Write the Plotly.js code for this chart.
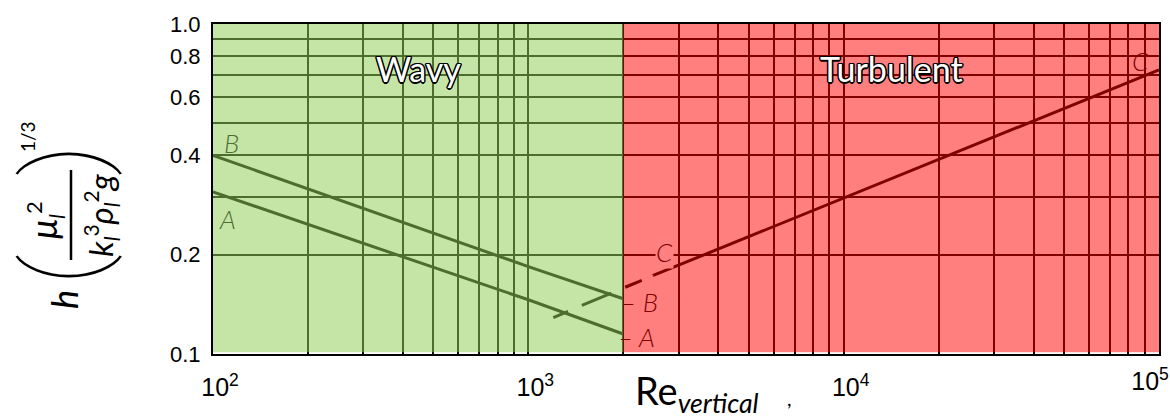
<!DOCTYPE html>
<html><head><meta charset="utf-8">
<script src="https://cdn.plot.ly/plotly-3.0.1.min.js"></script>
<style>html,body{margin:0;padding:0;background:#fff;overflow:hidden}</style>
</head><body><div id="chart" style="width:1170px;height:419px"></div>
<script>
// ---- data ----
const reA = [100, 1000, 2000];
const hA  = [0.31, 0.146, 0.115];
const reB = [100, 1000, 2000];
const hB  = [0.40, 0.184, 0.147];
const reCdash = [1200, 2490];
const hCdash  = [0.129, 0.173];
const reC = [2490, 10000, 20000, 60000, 100000];
const hC  = [0.173, 0.297, 0.39, 0.595, 0.726];
const regimeNames  = ['Wavy', 'Turbulent'];
const regimeBounds = [100, 2000, 100000];
const xTickVals  = [100, 1000, 10000];
const xTickText  = ['10<sup>2</sup>', '10<sup>3</sup>', '10<sup>4</sup>'];
const xTickVals2 = [100000];
const xTickText2 = ['10<sup>5</sup>'];
const yTickVals  = [0.1, 0.2, 0.4, 0.6, 0.8, 1.0];
const yTickText  = ['0.1', '0.2', '0.4', '0.6', '0.8', '1.0'];

// ---- layout helpers (pixel -> paper) ----
const L = 213, T = 24, W = 946, H = 330;
const px = x => (x - L) / W;
const py = y => (T + H - y) / H;

const GREEN_TXT = '#4e6e2f', RED_TXT = '#800000';
const lineStyle = {color: '#000', width: 3};

const traces = [
  {x: reA, y: hA, mode: 'lines', line: lineStyle, name: 'A', hoverinfo: 'skip'},
  {x: reB, y: hB, mode: 'lines', line: lineStyle, name: 'B', hoverinfo: 'skip'},
  {x: reCdash, y: hCdash, mode: 'lines', xaxis: 'x2',
   line: {color: '#000', width: 3, dash: '16px,15px,32px,15px,18px,12px'}, name: 'C ext', hoverinfo: 'skip'},
  {x: reC, y: hC, mode: 'lines', xaxis: 'x2', line: lineStyle, name: 'C', hoverinfo: 'skip'}
];

const axisFont = {family: 'Liberation Sans, Arial, sans-serif', size: 22, color: '#000'};
const xFont = {family: 'Liberation Sans, Arial, sans-serif', size: 25, color: '#000'};
const commonGrid = {gridcolor: '#000', gridwidth: 2};
const outline = '1.5px 0 0 #000,-1.5px 0 0 #000,0 1.5px 0 #000,0 -1.5px 0 #000,1px 1px 0 #000,-1px -1px 0 #000,1px -1px 0 #000,-1px 1px 0 #000';
const mathFont = (size, extra) => Object.assign({family: 'Lato, Open Sans, sans-serif', size: size, color: '#000'}, extra || {});
const parenFont = {family: 'Roboto, Lato, sans-serif', size: 104, weight: 100, color: '#000'};
const scr = (t, s) => '<span style="font-size:' + s + 'px">' + t + '</span>';

const annotations = [
  // regime labels
  {x: Math.log10(447), y: Math.log10(0.735), xref: 'x', yref: 'y', text: regimeNames[0],
   font: {family: 'Lato, sans-serif', size: 34, color: '#fff', shadow: outline}},
  {x: Math.log10(14130), y: Math.log10(0.735), xref: 'x', yref: 'y', text: regimeNames[1],
   font: {family: 'Lato, sans-serif', size: 34, color: '#fff', shadow: outline}},
  // curve labels
  {x: px(231), y: py(143), text: '<i>B</i>', font: mathFont(26, {color: GREEN_TXT, weight: 300})},
  {x: px(227), y: py(219), text: '<i>A</i>', font: mathFont(26, {color: GREEN_TXT, weight: 300})},
  {x: px(639), y: py(302), text: '<i>– B</i>', font: mathFont(26, {color: RED_TXT, weight: 300})},
  {x: px(636), y: py(337), text: '<i>– A</i>', font: mathFont(26, {color: RED_TXT, weight: 300})},
  {x: px(664), y: py(252), text: '<i>C</i>', bgcolor: 'rgb(255,128,128)', borderpad: 0, font: mathFont(26, {color: RED_TXT, weight: 300})},
  {x: px(1140), y: py(61), text: '<i>C</i>', font: mathFont(26, {color: RED_TXT, weight: 300})},
  // x-axis title
  {x: px(633), y: py(365), xanchor: 'left', yanchor: 'top', text: 'Re<sub><i>vertical</i></sub>', font: mathFont(38)},
  {x: px(789), y: py(398), text: ',', font: mathFont(20)},
  // y-axis title pieces (rotated)
  {x: px(64), y: py(300), text: '<i>h</i>', textangle: -90, font: mathFont(36)},
  {x: px(62), y: py(270), text: '(', textangle: -90, font: parenFont},
  {x: px(62), y: py(160), text: ')', textangle: -90, font: parenFont},
  {x: px(45), y: py(220), text: '<i>μ</i><sub>' + scr('<i>l</i>', 22) + '</sub><sup>' + scr('2', 22) + '</sup>', textangle: -90, font: mathFont(36)},
  {x: px(101), y: py(215), text: '<i>k</i><sub>' + scr('<i>l</i>', 21) + '</sub><sup>' + scr('3', 21) + '</sup><i>ρ</i><sub>' + scr('<i>l</i>', 21) + '</sub><sup>' + scr('2', 21) + '</sup><i>g</i>', textangle: -90, font: mathFont(33)},
  {x: px(27), y: py(137), text: '1/3', textangle: -90, font: mathFont(19)}
].map(a => Object.assign({xref: 'paper', yref: 'paper', showarrow: false, xanchor: 'center', yanchor: 'middle'}, a));

const shapes = [
  {type: 'rect', layer: 'above', xref: 'x', yref: 'paper', x0: regimeBounds[0], x1: regimeBounds[1], y0: 0.005, y1: 1,
   fillcolor: 'rgb(146,206,88)', opacity: 0.53, line: {width: 0}},
  {type: 'rect', layer: 'above', xref: 'x', yref: 'paper', x0: regimeBounds[1], x1: regimeBounds[2], y0: 0.005, y1: 1,
   fillcolor: 'rgb(255,0,0)', opacity: 0.5, line: {width: 0}},
  // fraction bar of the y title
  {type: 'line', xref: 'paper', yref: 'paper', x0: px(71), x1: px(71), y0: py(170), y1: py(260),
   line: {color: '#000', width: 2.5}}
];

const layout = {
  width: 1170, height: 419,
  margin: {l: L, r: 1170 - L - W, t: T, b: 419 - T - H},
  paper_bgcolor: '#fff', plot_bgcolor: '#fff',
  showlegend: false,
  xaxis: Object.assign({type: 'log', range: [2, 5], tickmode: 'array', tickvals: xTickVals, ticktext: xTickText,
    ticks: '', tickfont: xFont, ticklabelshift: 7, ticklabelstandoff: 10, showline: true, linecolor: '#000', linewidth: 2, mirror: true,
    zeroline: false, minor: {dtick: 'D1', showgrid: true, gridcolor: '#000', gridwidth: 2}}, commonGrid),
  xaxis2: {type: 'log', range: [2, 5], overlaying: 'x', anchor: 'y', side: 'bottom', matches: 'x',
    tickmode: 'array', tickvals: xTickVals2, ticktext: xTickText2, ticks: '', tickfont: xFont,
    ticklabelshift: -9, ticklabelstandoff: 10, showgrid: false, zeroline: false, showline: false},
  yaxis: Object.assign({type: 'log', range: [-1, 0], tickmode: 'array', tickvals: yTickVals, ticktext: yTickText,
    ticks: '', tickfont: axisFont, ticklabelstandoff: 6, showline: true, linecolor: '#000', linewidth: 2, mirror: true,
    zeroline: false, minor: {dtick: 'D1', showgrid: true, gridcolor: '#000', gridwidth: 2}}, commonGrid),
  annotations: annotations,
  shapes: shapes
};

Plotly.newPlot('chart', traces, layout, {staticPlot: true, displayModeBar: false});
</script>
</body></html>
